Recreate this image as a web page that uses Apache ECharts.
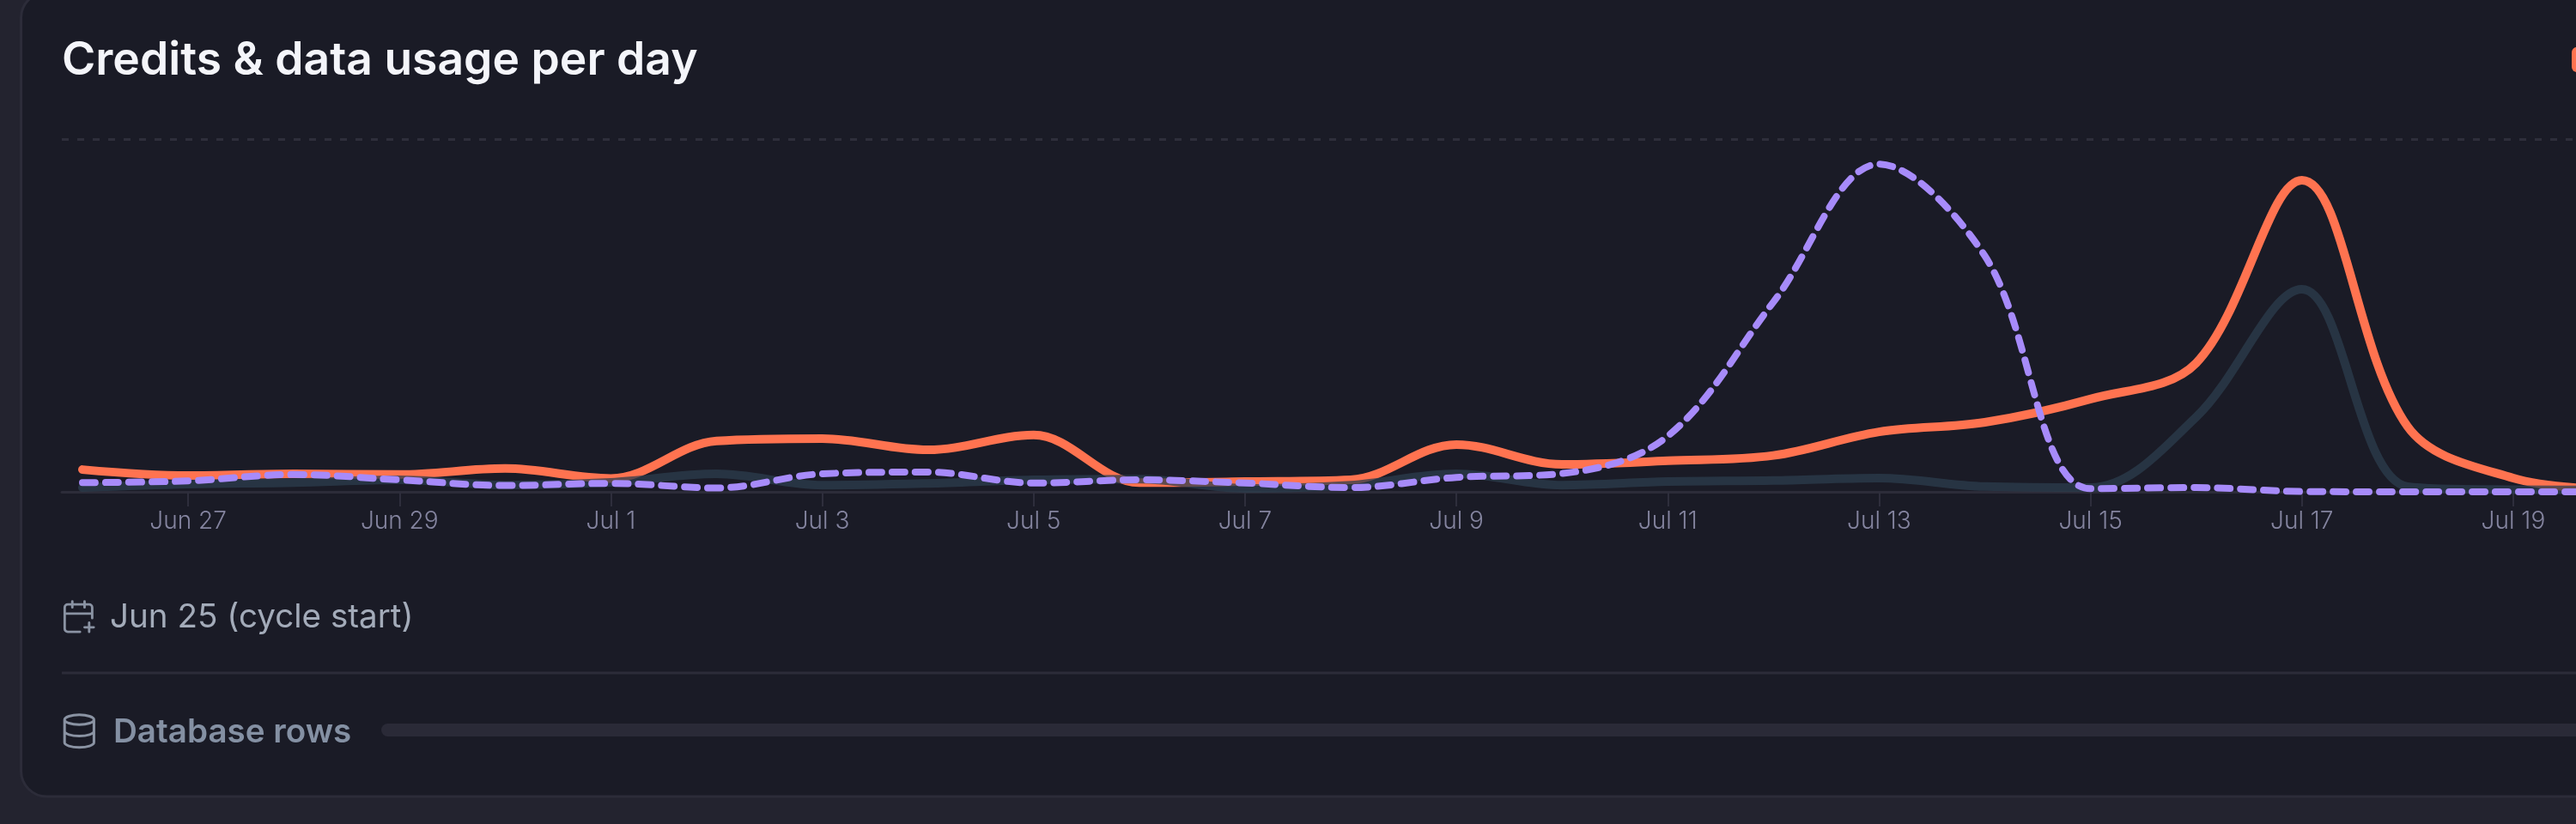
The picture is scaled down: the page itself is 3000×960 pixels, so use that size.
<!DOCTYPE html>
<html><head><meta charset="utf-8">
<script src="https://cdn.jsdelivr.net/npm/echarts@6/dist/echarts.min.js"></script>
<style>html,body{margin:0;padding:0;background:#23232f;overflow:hidden}#c{width:3000px;height:960px}</style>
</head><body><div id="c"></div>
<script>
const days = ["Jun 26","Jun 27","Jun 28","Jun 29","Jun 30","Jul 1","Jul 2","Jul 3","Jul 4","Jul 5","Jul 6","Jul 7","Jul 8","Jul 9","Jul 10","Jul 11","Jul 12","Jul 13","Jul 14","Jul 15","Jul 16","Jul 17","Jul 18","Jul 19","Jul 20"];
const credits = [6.3,4.6,5.1,4.9,6.6,3.8,14.4,15.1,11.9,16.1,2.6,2.9,3.4,13.4,7.8,8.8,10.3,17.0,19.7,26.3,36.5,88.3,18.5,3.9,0.5];
const dataUsage = [1.2,2.2,2.6,3.4,1.9,2.7,5.1,1.9,2.4,3.4,3.6,1.0,1.9,5.1,1.9,2.9,3.2,3.9,1.5,1.2,21.2,57.4,1.5,0.6,0.5];
const rows = [2.6,3.1,4.9,3.4,1.8,2.4,1.1,5.1,5.6,2.5,3.4,2.5,1.2,4.1,5.2,15.8,53.8,92.9,66.9,0.9,1.2,0.1,0,0,0];
const titleText = "Credits & data usage per day";
const cycleText = "Jun 25 (cycle start)";
const rowsText = "Database rows";

const everyOther = i => i % 2 === 1;
const font = "Inter, sans-serif";
echarts.graphic.registerShape('iconCal', echarts.graphic.extendPath("M8 2v4 M16 2v4 M21 13V6a2 2 0 0 0-2-2H5a2 2 0 0 0-2 2v14a2 2 0 0 0 2 2h8 M3 10h18 M16 19h6 M19 16v6", {}));
echarts.graphic.registerShape('iconDb', echarts.graphic.extendPath("M3 5a9 3 0 1 0 18 0a9 3 0 1 0-18 0 M3 5V19A9 3 0 0 0 21 19V5 M3 12A9 3 0 0 0 21 12", {}));
const chart = echarts.init(document.getElementById('c'));
const line = (name, data, color, width, extra) => Object.assign({
  name, type:'line', data, xAxisIndex:0, yAxisIndex:0, smooth:0.35,
  showSymbol:false, symbol:'none', clip:false, animation:false,
  lineStyle:{color, width, cap:'round', join:'round'}
}, extra||{});
const icon = (type, x, y, s) => ({type, x, y, scaleX:s, scaleY:s,
  style:{fill:'none', stroke:'#8a93a3', lineWidth:1.6, lineCap:'round', lineJoin:'round'}, z:5});
chart.setOption({
  backgroundColor:'#23232f',
  animation:false,
  grid:[
    {left:96, right:-50, top:162, bottom:387, outerBoundsMode:'none'},
    {left:72, right:-50, top:162, bottom:387, outerBoundsMode:'none'}
  ],
  xAxis:[
    {type:'category', gridIndex:0, data:days, boundaryGap:false,
     axisLine:{show:false},
     axisTick:{show:true, alignWithLabel:true, interval:everyOther, length:17, lineStyle:{color:'#2e2e3c', width:2}},
     axisLabel:{interval:everyOther, margin:21, color:'#84849f', fontFamily:font, fontSize:28, fontWeight:300},
     splitLine:{show:false}},
    {type:'value', gridIndex:1, min:0, max:1,
     axisLine:{show:true, onZero:false, lineStyle:{color:'#2c2c39', width:3}},
     axisTick:{show:false}, axisLabel:{show:false}, splitLine:{show:false}}
  ],
  yAxis:[
    {type:'value', gridIndex:0, min:0, max:100, show:false, splitLine:{show:false}},
    {type:'value', gridIndex:1, min:0, max:100, interval:100,
     axisLine:{show:false}, axisTick:{show:false}, axisLabel:{show:false},
     splitLine:{show:true, lineStyle:{color:'#2e2e3b', width:3, type:[8,10]}}}
  ],
  series:[
    line('Credits', credits, '#ff7350', 10, {z:3}),
    line('Data', dataUsage, 'rgba(44,62,78,0.75)', 10, {z:4}),
    line('Rows', rows, '#a78bfa', 8, {z:5, lineStyle:{color:'#a78bfa', width:8, cap:'round', join:'round', type:[15,12]}})
  ],
  graphic:[
    {type:'rect', shape:{x:24.5,y:-9,width:3200,height:937,r:30}, style:{fill:'#1a1b26', stroke:'#2c2c39', lineWidth:3}, z:-10},
    {type:'text', x:72, y:71, style:{text:titleText, fill:'#f4f5fa', font:'600 53.4px '+font, textVerticalAlign:'middle'}, z:5},
    {type:'rect', shape:{x:2995,y:55,width:40,height:29,r:6}, style:{fill:'#ff7350'}, z:5},
    icon('iconCal', 70, 697, 1.78),
    {type:'text', x:128, y:719, style:{text:cycleText, fill:'#a3abb9', font:'400 38.6px '+font, textVerticalAlign:'middle'}, z:5},
    {type:'rect', shape:{x:72,y:782.5,width:3000,height:3}, style:{fill:'#2c2c39'}, z:0},
    icon('iconDb', 69.5, 829, 1.9),
    {type:'text', x:132, y:853, style:{text:rowsText, fill:'#8490a3', font:'600 38.6px '+font, textVerticalAlign:'middle'}, z:5},
    {type:'rect', shape:{x:444,y:843,width:2700,height:15,r:7.5}, style:{fill:'#2a2a37'}, z:0}
  ]
});
</script></body></html>
